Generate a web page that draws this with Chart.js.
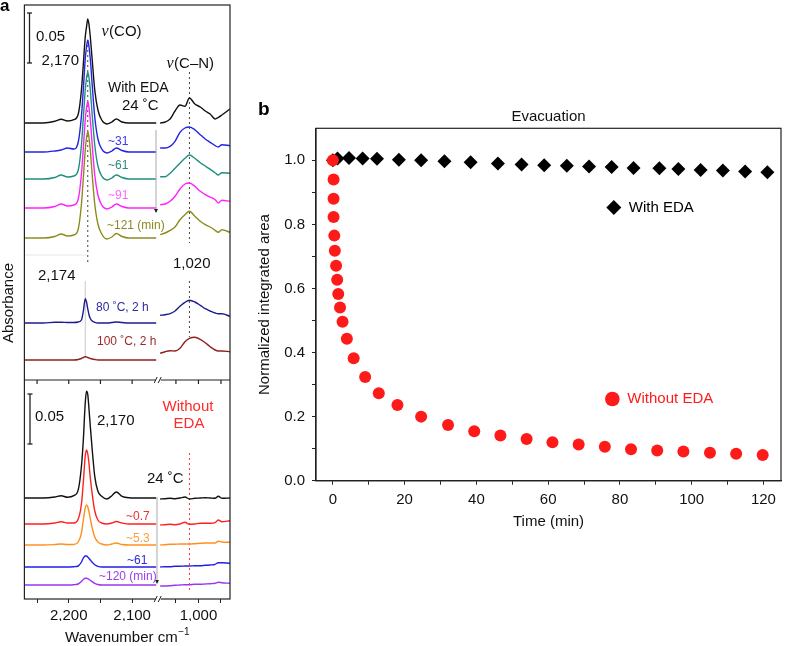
<!DOCTYPE html>
<html lang="en">
<head>
  <meta charset="UTF-8" />
  <title>CO / C-N bands with and without EDA</title>
  <script src="https://cdn.jsdelivr.net/npm/chart.js"></script>
  <style>
    body { margin: 0; background: #fff; }
    #wrap { position: relative; width: 788px; height: 646px; }
    canvas { position: absolute; top: 0; }
    #specChart { left: 0; }
    #areaChart { left: 240px; }
  </style>
</head>
<body>
<div id="wrap">
  <canvas id="specChart" width="240" height="646"></canvas>
  <canvas id="areaChart" width="548" height="646"></canvas>
</div>

<script>
  // ---------- panel a : IR spectra (mAbs, stacked with offsets) ----------
  const coWavenumbers = [2270, 2240, 2222, 2212, 2202, 2192, 2185, 2180, 2177, 2174, 2172, 2170, 2168,
                         2166, 2163, 2159, 2154, 2148, 2140, 2132, 2125, 2116, 2105, 2085, 2062];
  const cnWavenumbers = [1085, 1074, 1063, 1052, 1041, 1030, 1020, 1008, 996, 985, 974, 963, 956, 948, 930];

  // with EDA, evacuation at 24 C
  const edaCO_0   = [0, 0, 1.7, 3.7, 2, 3.3, 9, 33, 59, 86, 96, 104, 98, 86, 63, 33, 13, 3, -1, 1, 4, 1, 0, 0, 0];
  const edaCN_0   = [0, 1, 4, 12, 18, 16.7, 25, 19, 16, 12, 9, 4, 5.5, 8, 14];
  const edaCO_31  = [0, 0, 1, 2, 4, 3, 10, 36, 63, 93, 105, 112, 105, 93, 67, 35, 13, 3, -1, 1, 4, 1.5, 0, 0, 0];
  const edaCN_31  = [4, 4, 5.7, 10.7, 19.7, 24, 25, 22.3, 17.3, 13, 9.7, 6.3, 5, 7.3, 6.3];
  const edaCO_61  = [0, 0, 1.5, 4, 2, 3, 9, 34, 61, 89, 101, 107, 101, 89, 64, 34, 13, 3, -1, 1, 4, 1.5, 0, 0, 0];
  const edaCN_61  = [2.3, 2.3, 5.7, 10.7, 15.7, 20.7, 24, 20.7, 16.3, 13, 9.7, 6.3, 4, 6.3, 5.7];
  const edaCO_91  = [0, 0, 1.5, 4, 2, 3, 9, 34, 60, 88, 100, 106.6, 100, 88, 63, 33, 13, 3, -1, 1, 4, 1.5, 0, 0, 0];
  const edaCN_91  = [3.3, 4, 6.7, 11.7, 19, 24, 25, 21.7, 16.7, 13.3, 11, 8.3, 5, 7.7, 6.7];
  const edaCO_121 = [0, 0, 1.5, 4, 2, 3, 9, 34, 60, 88, 100, 106.6, 100, 88, 63, 34, 14, 4, -1, 1, 4.5, 1.5, 0, 0, 0];
  const edaCN_121 = [3.3, 5, 7.7, 11, 18.3, 23.3, 26.7, 21.7, 16.7, 13.3, 11, 7.7, 5.7, 8.3, 5.7];
  // with EDA, after heating
  const edaCO_80C  = [0, 0, 0.7, 0.7, 0.5, 0.5, 1, 3, 12, 24.3, 21, 14, 8, 4.5, 2, 0.7, 0, 0, 0, 0.5, 1, 0.5, 0, 0, 0];
  const edaCN_80C  = [7.7, 8.3, 9.3, 12, 16.7, 20.7, 22.7, 21, 17.7, 14.3, 12, 10, 9.3, 9.3, 6.7];
  const edaCO_100C = [0, 0, 0, 0, 0, 0, 0.5, 1.5, 2.5, 3.3, 3, 2.5, 2, 1.5, 1, 0.5, 0, 0, 0, 0, 0, 0, 0, 0, 0];
  const edaCN_100C = [6.7, 8.3, 9.3, 9, 11.7, 18.3, 21.7, 22.7, 20.7, 17.3, 13.3, 10, 9, 9, 8.3];
  // without EDA, evacuation at 24 C
  const bareCO_0   = [0, 0, 1, 2.3, 0.7, 2.3, 8.3, 31.7, 58.3, 95, 106.7, 103.3, 88.3, 71.7, 48.3, 21.7, 6.7, 1.7, -1, 2.3, 6, 1.7, 0.3, 0, 0];
  const bareCN_0   = [-1, -0.7, -0.3, -0.7, 0, 1, -1, -0.3, 0, 0.3, 0, -0.3, 1.7, -0.3, 0];
  const bareCO_07  = [0, 0, 1, 2.3, 1, 1, 5, 20, 42, 68, 74, 70, 60, 46, 30, 13, 4, 1, 0, 1, 2.5, 1, 0, 0, 0];
  const bareCN_07  = [-1, -0.7, -0.3, -0.7, 0, 1.7, -0.3, 0, 0.7, 0.7, 0.7, 1.3, 4, 2.3, 3.3];
  const bareCO_53  = [0, 0, 0.5, 1, 0.5, 0.5, 3, 12, 25, 37, 40, 38, 33, 26, 17, 8, 3, 1, 0, 1, 2, 0.5, 0, 0, 0];
  const bareCN_53  = [0, 0.3, 0.7, 0.7, 1, 1, 1, 1.3, 1.7, 2, 2, 2, 3.7, 3, 2.7];
  const bareCO_61  = [0, 0, 0, 0, 0, 0.3, 1, 5, 9, 11, 11, 10, 8.5, 7, 4.7, 2.3, 0.7, 0, 0, 0, 0, 0, 0, 0, 0];
  const bareCN_61  = [0, 0.3, 0.3, 0.7, 0.7, 1, 1, 1.3, 1.3, 1.7, 2, 2.7, 4.3, 4.3, 3.7];
  const bareCO_120 = [0, 0, 0, 0, 0, 0.3, 1, 3.5, 5.5, 6.7, 6.7, 6.3, 5.5, 4.7, 3.3, 1.7, 0.5, 0, 0, 0, 0, 0, 0, 0, 0];
  const bareCN_120 = [-1, -1, -0.7, -0.3, 0, 0.3, 0.3, 0.7, 0.7, 1, 1.3, 1.7, 2.7, 2.3, 1.7];

  const spectrumNames   = ['EDA 24 C', 'EDA ~31', 'EDA ~61', 'EDA ~91', 'EDA ~121', '80 C, 2 h', '100 C, 2 h',
                           'no EDA 24 C', 'no EDA ~0.7', 'no EDA ~5.3', 'no EDA ~61', 'no EDA ~120'];
  const spectrumOffsets = [476, 447, 420, 391, 361, 276, 239, 101, 75, 54, 32, 14];
  const coSeries = [edaCO_0, edaCO_31, edaCO_61, edaCO_91, edaCO_121, edaCO_80C, edaCO_100C,
                    bareCO_0, bareCO_07, bareCO_53, bareCO_61, bareCO_120];
  const cnSeries = [edaCN_0, edaCN_31, edaCN_61, edaCN_91, edaCN_121, edaCN_80C, edaCN_100C,
                    bareCN_0, bareCN_07, bareCN_53, bareCN_61, bareCN_120];
  const spectrumColors = ['#111111', '#2323e6', '#1f8f80', '#ff22ff', '#8c8c1e', '#1c1c90', '#8e1f1f',
                          '#111111', '#ff2020', '#ff9020', '#2020e8', '#9a36f0'];

  const axisTicksA = [2250, 2200, 2150, 2100, 1050, 1000, 950];
  const labelledTicksA = [2200, 2100, 1000];

  // ---------- panel b : normalized integrated area vs time ----------
  const timeWithEDA = [0, 1.3, 4.5, 8.3, 12.3, 18.4, 24.6, 31.1, 38.4, 46.0, 52.6, 58.9, 65.2, 71.4,
                       77.7, 83.8, 91.0, 96.3, 102.5, 108.7, 114.9, 121.1];
  const areaWithEDA = [1.0, 1.006, 1.007, 1.006, 1.005, 1.002, 1.0, 0.997, 0.994, 0.99, 0.987, 0.985, 0.983, 0.981,
                       0.979, 0.976, 0.975, 0.973, 0.97, 0.968, 0.965, 0.963];
  const timeWithoutEDA = [0, 0.2, 0.2, 0.2, 0.4, 0.55, 0.9, 1.2, 1.5, 2.0, 2.7, 3.9, 5.8, 9.0, 12.8, 18.0,
                          24.6, 32.1, 39.4, 46.7, 54.0, 61.2, 68.5, 75.8, 83.1, 90.4, 97.7, 105.1, 112.4, 119.8];
  const areaWithoutEDA = [1.0, 0.94, 0.88, 0.823, 0.765, 0.718, 0.671, 0.627, 0.583, 0.541, 0.496, 0.443, 0.382, 0.324,
                          0.273, 0.236, 0.2, 0.174, 0.154, 0.141, 0.13, 0.12, 0.113, 0.106, 0.098, 0.094, 0.091,
                          0.087, 0.084, 0.08];

  Chart.defaults.font.family = "'Liberation Sans', Arial, Helvetica, sans-serif";
  Chart.defaults.color = '#111';

  const SANS = "'Liberation Sans', Arial, sans-serif";

  // broken wavenumber axis: 2270-2062 on the left, 1085-930 (stretched) on the right
  function toAxis(w) {
    return w > 1500 ? 2270 - w : 214.2 + (1085 - w) * 0.711;
  }

  const specDatasets = [];
  spectrumNames.forEach((name, i) => {
    const base = { borderColor: spectrumColors[i], borderWidth: 1.4, pointRadius: 0, fill: false,
                   cubicInterpolationMode: 'monotone' };
    specDatasets.push(Object.assign({ label: name + ' CO',
      data: coWavenumbers.map((w, k) => ({ x: toAxis(w), y: spectrumOffsets[i] + coSeries[i][k] })) }, base));
    specDatasets.push(Object.assign({ label: name + ' CN',
      data: cnWavenumbers.map((w, k) => ({ x: toAxis(w), y: spectrumOffsets[i] + cnSeries[i][k] })) }, base));
  });

  function line(ctx, x1, y1, x2, y2) {
    ctx.beginPath(); ctx.moveTo(x1, y1); ctx.lineTo(x2, y2); ctx.stroke();
  }
  function text(ctx, s, x, y, color, font, align) {
    ctx.fillStyle = color; ctx.font = font; ctx.textAlign = align || 'left'; ctx.textBaseline = 'middle';
    ctx.fillText(s, x, y);
  }
  function nuLabel(ctx, rest, x, y) {
    ctx.textBaseline = 'middle'; ctx.textAlign = 'left'; ctx.fillStyle = '#111';
    ctx.font = "italic 16px 'Liberation Serif', serif";
    ctx.fillText('\u03BD', x, y);
    const w = ctx.measureText('\u03BD').width;
    ctx.font = '15px ' + SANS;
    ctx.fillText(rest, x + w + 0.5, y);
  }
  function scaleBar(ctx, x, y1, y2) {
    ctx.strokeStyle = '#222'; ctx.lineWidth = 1.3;
    line(ctx, x, y1, x, y2); line(ctx, x - 2.5, y1, x + 2.5, y1); line(ctx, x - 2.5, y2, x + 2.5, y2);
  }
  function timeArrow(ctx, x, y1, y2) {
    ctx.strokeStyle = '#aaa'; ctx.lineWidth = 1;
    line(ctx, x, y1, x, y2);
    ctx.fillStyle = '#222';
    ctx.beginPath(); ctx.moveTo(x - 2, y2 - 3); ctx.lineTo(x + 2, y2 - 3); ctx.lineTo(x, y2 + 1); ctx.closePath(); ctx.fill();
  }
  function breakMark(ctx, x, y) {
    ctx.fillStyle = '#fff'; ctx.fillRect(x - 2.5, y - 2, 5, 4);
    ctx.strokeStyle = '#222'; ctx.lineWidth = 1;
    line(ctx, x - 4, y + 3, x - 1, y - 3); line(ctx, x, y + 3, x + 3, y - 3);
  }

  const specDecor = {
    id: 'specDecor',
    beforeDatasetsDraw(chart) {
      const { ctx, scales: { x } } = chart;
      const px = w => x.getPixelForValue(toAxis(w));
      ctx.save();
      ctx.lineWidth = 1;
      ctx.setLineDash([2, 3]);
      ctx.strokeStyle = '#444';
      line(ctx, px(2170), 40, px(2170), 262);
      line(ctx, px(1020), 72, px(1020), 243);
      line(ctx, px(1020), 281, px(1020), 337);
      ctx.strokeStyle = '#ff3030';
      line(ctx, px(1020), 453, px(1020), 593);
      ctx.setLineDash([]);
      ctx.strokeStyle = '#c8c8c8';
      line(ctx, px(2174), 281, px(2174), 358);
      ctx.strokeStyle = '#e6e6e6';
      line(ctx, chart.chartArea.left, 255, px(2172), 255);
      ctx.restore();
    },
    afterDraw(chart) {
      const { ctx, chartArea: a, scales: { x } } = chart;
      ctx.save();
      ctx.strokeStyle = '#222'; ctx.lineWidth = 1.2;
      ctx.strokeRect(a.left, a.top, a.right - a.left, a.bottom - a.top);
      line(ctx, a.left, 380, a.right, 380);
      axisTicksA.forEach(w => {
        const p = x.getPixelForValue(toAxis(w));
        line(ctx, p, 380, p, 384);
      });
      const gap = x.getPixelForValue((toAxis(2062) + toAxis(1085)) / 2);
      breakMark(ctx, gap, 380);
      breakMark(ctx, gap, a.bottom);

      scaleBar(ctx, 29.5, 13, 63);
      scaleBar(ctx, 30, 394, 444);
      timeArrow(ctx, 156, 130, 212);
      timeArrow(ctx, 157, 497, 583);

      const big = '15px ' + SANS, small = '12px ' + SANS, med = '13px ' + SANS;
      text(ctx, 'a', 0, 6, '#000', 'bold 17px ' + SANS);
      text(ctx, '0.05', 36, 37, '#111', big);
      nuLabel(ctx, '(CO)', 101.5, 32);
      text(ctx, '2,170', 41.5, 61, '#111', big);
      nuLabel(ctx, '(C\u2013N)', 166.5, 64);
      text(ctx, 'With EDA', 108, 88, '#111', '14px ' + SANS);
      text(ctx, '24 \u02DAC', 122, 106, '#111', big);
      text(ctx, '~31', 108, 142, '#3a3ae8', small);
      text(ctx, '~61', 108, 166, '#2a8a80', small);
      text(ctx, '~91', 108, 196, '#ff66ff', small);
      text(ctx, '~121 (min)', 107, 226, '#8a8a20', small);
      text(ctx, '2,174', 38, 276, '#111', big);
      text(ctx, '1,020', 173, 264, '#111', big);
      text(ctx, '80 \u02DAC, 2 h', 96, 308, '#2a2aa6', small);
      text(ctx, '100 \u02DAC, 2 h', 97, 342, '#9a2a2a', small);
      text(ctx, '0.05', 35, 417, '#111', big);
      text(ctx, '2,170', 97, 421, '#111', big);
      text(ctx, 'Without', 188, 407, '#ff2a2a', big, 'center');
      text(ctx, 'EDA', 189, 424, '#ff2a2a', big, 'center');
      text(ctx, '24 \u02DAC', 147, 479, '#111', big);
      text(ctx, '~0.7', 126, 517, '#ee3030', small);
      text(ctx, '~5.3', 126, 539, '#f8a040', small);
      text(ctx, '~61', 127, 561, '#2a2ad8', small);
      text(ctx, '~120 (min)', 99, 577, '#9a40ee', small);

      // y title
      ctx.save();
      ctx.translate(9, 303); ctx.rotate(-Math.PI / 2);
      text(ctx, 'Absorbance', 0, 0, '#111', big, 'center');
      ctx.restore();

      // x title with superscript
      ctx.font = big;
      const main = 'Wavenumber cm';
      const wMain = ctx.measureText(main).width;
      ctx.font = '10px ' + SANS;
      const wSup = ctx.measureText('\u22121').width;
      const x0 = 127 - (wMain + wSup) / 2;
      text(ctx, main, x0, 638, '#111', big);
      text(ctx, '\u22121', x0 + wMain + 0.5, 632, '#111', '10px ' + SANS);
      ctx.restore();
    }
  };

  new Chart(document.getElementById('specChart'), {
    type: 'line',
    data: { datasets: specDatasets },
    options: {
      responsive: false,
      animation: false,
      layout: { padding: { left: 24.4, right: 10, top: 5, bottom: 25 } },
      plugins: { legend: { display: false }, tooltip: { enabled: false } },
      scales: {
        x: {
          type: 'linear',
          min: 0,
          max: toAxis(930),
          afterBuildTicks: s => { s.ticks = axisTicksA.map(w => ({ value: toAxis(w) })); },
          afterFit: s => { s.height = 22; },
          border: { display: false },
          grid: { drawOnChartArea: false, tickLength: 4, color: '#222', tickWidth: 1 },
          ticks: {
            autoSkip: false, maxRotation: 0, padding: 4, color: '#111',
            font: { size: 15 },
            callback: (v, i) => labelledTicksA.includes(axisTicksA[i]) ? axisTicksA[i].toLocaleString('en-US') : ''
          }
        },
        y: { display: false, min: 0, max: 594 }
      }
    },
    plugins: [specDecor]
  });

  // ---------- panel b ----------
  const legendB = [
    { text: 'With EDA', t: 78.3, v: 0.853, color: '#000', style: 'diamond' },
    { text: 'Without EDA', t: 77.9, v: 0.255, color: '#ff1a1a', style: 'circle' }
  ];

  const areaDecor = {
    id: 'areaDecor',
    afterDraw(chart) {
      const { ctx, chartArea: a, scales: { x, y } } = chart;
      ctx.save();
      ctx.strokeStyle = '#222'; ctx.lineWidth = 1.2;
      ctx.strokeRect(a.left, a.top, a.right - a.left, a.bottom - a.top);
      text(ctx, 'Evacuation', (a.left + a.right) / 2, 117, '#111', '15px ' + SANS, 'center');
      text(ctx, 'b', 18, 110, '#000', 'bold 19px ' + SANS);
      legendB.forEach(l => {
        const cx = x.getPixelForValue(l.t), cy = y.getPixelForValue(l.v);
        ctx.fillStyle = l.color;
        ctx.beginPath();
        if (l.style === 'diamond') {
          ctx.moveTo(cx, cy - 7.5); ctx.lineTo(cx + 7.5, cy); ctx.lineTo(cx, cy + 7.5); ctx.lineTo(cx - 7.5, cy);
          ctx.closePath();
        } else {
          ctx.arc(cx, cy, 7.3, 0, Math.PI * 2);
        }
        ctx.fill();
        text(ctx, l.text, cx + 15, cy, l.color, '15px ' + SANS);
      });
      ctx.restore();
    }
  };

  new Chart(document.getElementById('areaChart'), {
    type: 'scatter',
    data: {
      datasets: [
        {
          label: 'Without EDA',
          data: timeWithoutEDA.map((t, i) => ({ x: t, y: areaWithoutEDA[i] })),
          pointStyle: 'circle', pointRadius: 6, backgroundColor: '#ff1a1a', borderWidth: 0
        },
        {
          label: 'With EDA',
          data: timeWithEDA.map((t, i) => ({ x: t, y: areaWithEDA[i] })),
          pointStyle: 'rectRot', pointRadius: 7, backgroundColor: '#000', borderWidth: 0
        }
      ]
    },
    options: {
      responsive: false,
      animation: false,
      layout: { padding: { left: 0, right: 1.5, top: 128.3, bottom: 110.3 } },
      plugins: { legend: { display: false }, tooltip: { enabled: false } },
      scales: {
        x: {
          type: 'linear', min: -4.7, max: 124.9,
          afterBuildTicks: s => { s.ticks = [0, 10, 20, 30, 40, 50, 60, 70, 80, 90, 100, 110, 120].map(v => ({ value: v })); },
          afterFit: s => { s.height = 55; },
          border: { color: '#222', width: 1.2 },
          grid: { drawOnChartArea: false, tickLength: 4, color: '#222' },
          ticks: { padding: 6, font: { size: 15 }, color: '#111', maxRotation: 0, autoSkip: false,
                   callback: v => v % 20 === 0 ? String(v) : '' },
          title: { display: true, text: 'Time (min)', font: { size: 15 }, color: '#111', padding: { top: 0, bottom: 4.7 } }
        },
        y: {
          min: 0, max: 1.1,
          afterBuildTicks: s => { s.ticks = [0, 0.1, 0.2, 0.3, 0.4, 0.5, 0.6, 0.7, 0.8, 0.9, 1.0].map(v => ({ value: v })); },
          afterFit: s => { s.width = 76; },
          border: { color: '#222', width: 1.2 },
          grid: { drawOnChartArea: false, tickLength: 4, color: '#222' },
          ticks: { padding: 7, font: { size: 15 }, color: '#111', autoSkip: false,
                   callback: (v, i) => i % 2 === 0 ? v.toFixed(1) : '' },
          title: { display: true, text: 'Normalized integrated area', font: { size: 15 }, color: '#111',
                   padding: { top: 16, bottom: 0 } }
        }
      }
    },
    plugins: [areaDecor]
  });
</script>
</body>
</html>
